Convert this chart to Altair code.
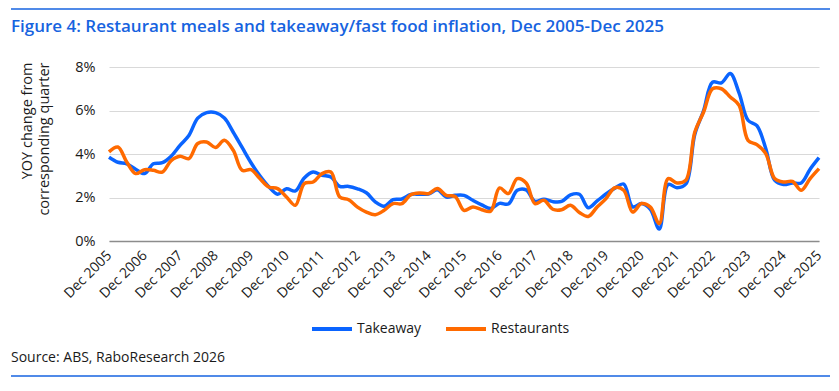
import altair as alt
import pandas as pd

FONT = "Open Sans"
BLUE = "#0a64ff"
ORANGE = "#ff6a00"
TITLE_BLUE = "#1663e0"

# quarterly categories, Dec 2005 .. Dec 2025
quarters = ["Dec 2005"] + [f"{m} {y}" for y in range(2006, 2026) for m in ("Mar", "Jun", "Sep", "Dec")]
tick_labels = [f"Dec {y}" for y in range(2005, 2026)]
y_ticks = [0, 2, 4, 6, 8]

takeaway = [
    3.85, 3.62, 3.55, 3.30, 3.10, 3.55, 3.60, 3.90, 4.40, 4.85,
    5.65, 5.90, 5.90, 5.65, 5.00, 4.30, 3.60, 3.00, 2.50, 2.15,
    2.40, 2.30, 2.90, 3.17, 3.02, 2.94, 2.51, 2.51, 2.40, 2.22,
    1.80, 1.60, 1.90, 1.93, 2.14, 2.15, 2.16, 2.35, 2.02, 2.10,
    2.10, 1.87, 1.66, 1.49, 1.73, 1.70, 2.33, 2.35, 1.82, 1.92,
    1.81, 1.82, 2.12, 2.15, 1.53, 1.84, 2.16, 2.43, 2.62, 1.57,
    1.72, 1.45, 0.55, 2.60, 2.45, 2.62, 4.90, 6.00, 7.30, 7.27,
    7.70, 6.80, 5.55, 5.30, 4.25, 2.80, 2.60, 2.67, 2.67, 3.30,
    3.83,
]
restaurants = [
    4.10, 4.32, 3.63, 3.10, 3.28, 3.25, 3.17, 3.70, 3.90, 3.79,
    4.48, 4.55, 4.30, 4.63, 4.17, 3.25, 3.28, 2.87, 2.48, 2.41,
    2.02, 1.64, 2.64, 2.71, 3.10, 3.17, 2.02, 1.90, 1.56, 1.33,
    1.21, 1.41, 1.72, 1.72, 2.13, 2.21, 2.18, 2.41, 2.10, 2.05,
    1.41, 1.56, 1.44, 1.37, 2.44, 2.18, 2.87, 2.67, 1.72, 1.87,
    1.46, 1.44, 1.64, 1.31, 1.13, 1.56, 1.95, 2.45, 2.33, 1.33,
    1.72, 1.56, 0.80, 2.87, 2.67, 2.80, 5.00, 5.93, 7.00, 7.00,
    6.62, 6.24, 4.63, 4.43, 4.02, 2.87, 2.71, 2.74, 2.33, 2.87,
    3.33,
]

series_names = ["Takeaway", "Restaurants"]
title_text = "Figure 4: Restaurant meals and takeaway/fast food inflation, Dec 2005-Dec 2025"
source_text = "Source: ABS, RaboResearch 2026"

df = pd.DataFrame({
    "quarter": quarters * 2,
    "series": [series_names[0]] * len(quarters) + [series_names[1]] * len(quarters),
    "value": takeaway + restaurants,
})

x = alt.X(
    "quarter:O", sort=quarters,
    scale=alt.Scale(type="point", padding=0),
    axis=alt.Axis(
        values=tick_labels, labelAngle=315, labelAlign="right", labelBaseline="middle",
        labelPadding=12, ticks=False, domainColor="#8c8c8c", domainWidth=1.4,
        title=None, labelFontSize=14, labelFont=FONT, labelColor="#1a1a1a", grid=False,
    ),
)
y = alt.Y(
    "value:Q",
    scale=alt.Scale(domain=[0, 8], nice=False),
    axis=alt.Axis(
        values=y_ticks, labelExpr="datum.value + '%'", domain=False, ticks=False,
        gridColor="#d9d9d9", gridWidth=1.2, labelPadding=14, labelFontSize=14.5,
        labelFont=FONT, labelColor="#1a1a1a",
        title=["YOY change from", "corresponding quarter"],
        titleFont=FONT, titleFontSize=14.5, titleFontWeight="normal", titleColor="#1a1a1a",
        titleAngle=270, titleAlign="right", titleBaseline="alphabetic",
        titleX=-78, titleY=-5, titleLineHeight=17,
    ),
)
color = alt.Color(
    "series:N",
    scale=alt.Scale(domain=series_names, range=[BLUE, ORANGE]),
    legend=alt.Legend(
        title=None, orient="none", legendX=201, legendY=240, direction="horizontal",
        symbolType="stroke", symbolSize=1600, symbolStrokeWidth=4,
        labelFontSize=14, labelFont=FONT, labelColor="#1a1a1a",
        columnPadding=16, labelOffset=3,
    ),
)

base = alt.Chart(df)
line_t = base.transform_filter(alt.datum.series == "Takeaway").mark_line(
    strokeWidth=3.5, interpolate="catmull-rom").encode(x=x, y=y, color=color)
line_r = base.transform_filter(alt.datum.series == "Restaurants").mark_line(
    strokeWidth=3.5, interpolate="catmull-rom").encode(x=x, y=y, color=color)

one = pd.DataFrame({"t": [title_text], "s": [source_text]})
title = alt.Chart(one).mark_text(
    font=FONT, fontSize=17, fontWeight=600, color=TITLE_BLUE, align="left", baseline="alphabetic"
).encode(x=alt.value(-98), y=alt.value(-35), text="t:N")
source = alt.Chart(one).mark_text(
    font=FONT, fontSize=14, color="#1a1a1a", align="left", baseline="alphabetic"
).encode(x=alt.value(-98), y=alt.value(295), text="s:N")
rule_top = alt.Chart(one).mark_rule(color=TITLE_BLUE, strokeWidth=1.5).encode(
    x=alt.value(-98), x2=alt.value(721), y=alt.value(-58))
rule_bot = alt.Chart(one).mark_rule(color=TITLE_BLUE, strokeWidth=1.5).encode(
    x=alt.value(-98), x2=alt.value(721), y=alt.value(309))

chart = alt.layer(line_t, line_r, title, source, rule_top, rule_bot).properties(
    width=710, height=174,
    padding={"left": 101, "top": 59, "right": 12, "bottom": 137},
    autosize=alt.AutoSizeParams(type="none"),
).configure_view(stroke=None)

chart.save("out.html", embed_options={"renderer": "svg", "actions": False})
